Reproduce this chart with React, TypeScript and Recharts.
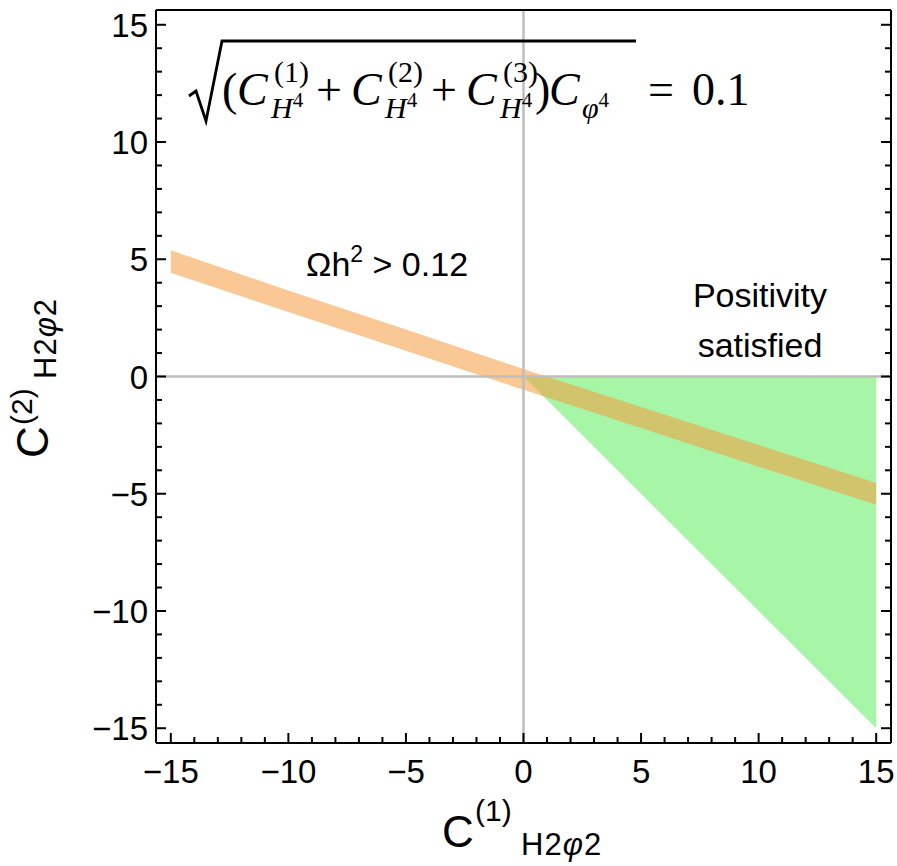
import React from "react";
import { ComposedChart, Area, XAxis, YAxis, ReferenceLine } from "recharts";

// plot range (Mathematica-style padding around -15..15)
const X_DOMAIN: [number, number] = [-15.63, 15.63];
const Y_DOMAIN: [number, number] = [-15.63, 15.63];
const MAJOR_TICKS = [-15, -10, -5, 0, 5, 10, 15];
const ALL_TICKS = Array.from({ length: 31 }, (_, i) => i - 15);

// Ωh² > 0.12 band: lower / upper edge of C(2) at sample C(1) values
const bandX = [-15, -10, -5, 0, 5, 10, 15];
const bandLow = [4.42, 2.75, 1.1, -0.57, -2.2, -3.85, -5.47];
const bandHigh = [5.38, 3.67, 2.0, 0.32, -1.3, -2.92, -4.54];

// positivity satisfied region (triangle)
const posX = [0, 15];
const posLow = [0, -15];
const posHigh = [0, 0];

const bandData = bandX.map((x, i) => ({ x, range: [bandLow[i], bandHigh[i]] }));
const posData = posX.map((x, i) => ({ x, range: [posLow[i], posHigh[i]] }));

const SANS = '"Liberation Sans", Arial, sans-serif';
const SERIF = '"Liberation Serif", "Times New Roman", serif';
const TICK_FONT = 33;

const fmt = (v: number) => (v < 0 ? "\u2212" + Math.abs(v) : String(v));
const isMajor = (v: number) => MAJOR_TICKS.includes(v);
const tickLen = (v: number) => (isMajor(v) ? 10 : 6);

function BottomTick(props: any) {
  const { x, y, payload } = props;
  const v = payload.value;
  return (
    <g>
      <line x1={x} y1={y} x2={x} y2={y - tickLen(v)} stroke="#000" strokeWidth={2} />
      {isMajor(v) && (
        <text x={x} y={y + 40} textAnchor="middle" fontSize={TICK_FONT} fontFamily={SANS} fill="#000">
          {fmt(v)}
        </text>
      )}
    </g>
  );
}

function TopTick(props: any) {
  const { x, y, payload } = props;
  return <line x1={x} y1={y} x2={x} y2={y + tickLen(payload.value)} stroke="#000" strokeWidth={2} />;
}

function LeftTick(props: any) {
  const { x, y, payload } = props;
  const v = payload.value;
  return (
    <g>
      <line x1={x} y1={y} x2={x + tickLen(v)} y2={y} stroke="#000" strokeWidth={2} />
      {isMajor(v) && (
        <text x={x - 8} y={y + 12} textAnchor="end" fontSize={TICK_FONT} fontFamily={SANS} fill="#000">
          {fmt(v)}
        </text>
      )}
    </g>
  );
}

function RightTick(props: any) {
  const { x, y, payload } = props;
  return <line x1={x} y1={y} x2={x - tickLen(payload.value)} y2={y} stroke="#000" strokeWidth={2} />;
}

function Formula() {
  const big = 46;
  const small = 30;
  const tiny = 21;
  const base = 105;
  const sup = 82;
  const sub = 118;
  const hsub = (x: number) => (
    <text x={x} y={sub} fontSize={small} fontFamily={SERIF}>
      <tspan fontStyle="italic">H</tspan>
      <tspan fontSize={tiny} dy={-11}>4</tspan>
    </text>
  );
  return (
    <g fill="#000">
      <path d="M189 96 L196 91 L206 121 L222 41 L636 41" stroke="#000" strokeWidth={2.8} fill="none" />
      <text x={222} y={base} fontSize={big} fontFamily={SERIF}>(</text>
      <text x={237} y={base} fontSize={big} fontFamily={SERIF} fontStyle="italic">C</text>
      <text x={274} y={sup} fontSize={small} fontFamily={SERIF}>(1)</text>
      {hsub(271)}
      <text x={316} y={base} fontSize={big} fontFamily={SERIF}>+</text>
      <text x={351} y={base} fontSize={big} fontFamily={SERIF} fontStyle="italic">C</text>
      <text x={388} y={sup} fontSize={small} fontFamily={SERIF}>(2)</text>
      {hsub(385)}
      <text x={431} y={base} fontSize={big} fontFamily={SERIF}>+</text>
      <text x={466} y={base} fontSize={big} fontFamily={SERIF} fontStyle="italic">C</text>
      <text x={503} y={sup} fontSize={small} fontFamily={SERIF}>(3)</text>
      {hsub(500)}
      <text x={535} y={base} fontSize={big} fontFamily={SERIF}>)</text>
      <text x={549} y={base} fontSize={big} fontFamily={SERIF} fontStyle="italic">C</text>
      <text x={582} y={sub} fontSize={small} fontFamily={SERIF}>
        <tspan fontStyle="italic">φ</tspan>
        <tspan fontSize={tiny} dy={-11}>4</tspan>
      </text>
      <text x={648} y={base} fontSize={big} fontFamily={SERIF}>=</text>
      <text x={692} y={base} fontSize={big} fontFamily={SERIF}>0.1</text>
    </g>
  );
}

function AxisTitle({ sup, transform, raise }: { sup: string; transform: string; raise: number }) {
  return (
    <g transform={transform} fill="#000" fontFamily={SANS}>
      <text x={0} y={0} fontSize={44}>C</text>
      <text x={33} y={-raise} fontSize={30}>{sup}</text>
      <text x={79} y={8} fontSize={31} letterSpacing={1}>
        H2<tspan fontStyle="italic">φ</tspan>2
      </text>
    </g>
  );
}

export default function App() {
  return (
    <div style={{ position: "absolute", left: 0, top: 0, width: 897, height: 866 }}>
      <ComposedChart width={897} height={866} margin={{ top: 9, right: 5, bottom: 62, left: 56 }}>
        <XAxis
          dataKey="x"
          type="number"
          domain={X_DOMAIN}
          allowDataOverflow
          ticks={ALL_TICKS}
          interval={0}
          height={61}
          tickSize={0}
          tickMargin={0}
          tickLine={false}
          axisLine={{ stroke: "#000", strokeWidth: 2 }}
          tick={(p: any) => <BottomTick {...p} />}
        />
        <XAxis
          xAxisId="top"
          orientation="top"
          type="number"
          domain={X_DOMAIN}
          allowDataOverflow
          ticks={ALL_TICKS}
          interval={0}
          height={1}
          tickSize={0}
          tickMargin={0}
          tickLine={false}
          axisLine={{ stroke: "#000", strokeWidth: 2 }}
          tick={(p: any) => <TopTick {...p} />}
        />
        <YAxis
          type="number"
          domain={Y_DOMAIN}
          allowDataOverflow
          ticks={ALL_TICKS}
          interval={0}
          width={100}
          tickSize={0}
          tickMargin={0}
          tickLine={false}
          axisLine={{ stroke: "#000", strokeWidth: 2 }}
          tick={(p: any) => <LeftTick {...p} />}
        />
        <YAxis
          yAxisId="right"
          orientation="right"
          type="number"
          domain={Y_DOMAIN}
          allowDataOverflow
          ticks={ALL_TICKS}
          interval={0}
          width={1}
          tickSize={0}
          tickMargin={0}
          tickLine={false}
          axisLine={{ stroke: "#000", strokeWidth: 2 }}
          tick={(p: any) => <RightTick {...p} />}
        />
        <ReferenceLine x={0} stroke="#bebebe" strokeWidth={2.5} />
        <ReferenceLine y={0} stroke="#bebebe" strokeWidth={2.5} />
        <Area
          data={posData}
          dataKey="range"
          type="linear"
          fill="#22e622"
          fillOpacity={0.4}
          stroke="none"
          isAnimationActive={false}
        />
        <Area
          data={bandData}
          dataKey="range"
          type="linear"
          fill="#f59a3c"
          fillOpacity={0.55}
          stroke="none"
          isAnimationActive={false}
        />
      </ComposedChart>
      <svg
        width={897}
        height={866}
        style={{ position: "absolute", left: 0, top: 0, pointerEvents: "none" }}
      >
        <Formula />
        <text x={306} y={276} fontSize={34} fontFamily={SANS} fill="#000">
          Ωh<tspan fontSize={23} dy={-14}>2</tspan>
          <tspan dy={14}> &gt; 0.12</tspan>
        </text>
        <text x={760} y={307} fontSize={34} fontFamily={SANS} textAnchor="middle" fill="#000">
          Positivity
        </text>
        <text x={760} y={357} fontSize={34} fontFamily={SANS} textAnchor="middle" fill="#000">
          satisfied
        </text>
        <AxisTitle sup="(1)" raise={26} transform="translate(442,847)" />
        <AxisTitle sup="(2)" raise={16} transform="translate(48,458) rotate(-90)" />
      </svg>
    </div>
  );
}
